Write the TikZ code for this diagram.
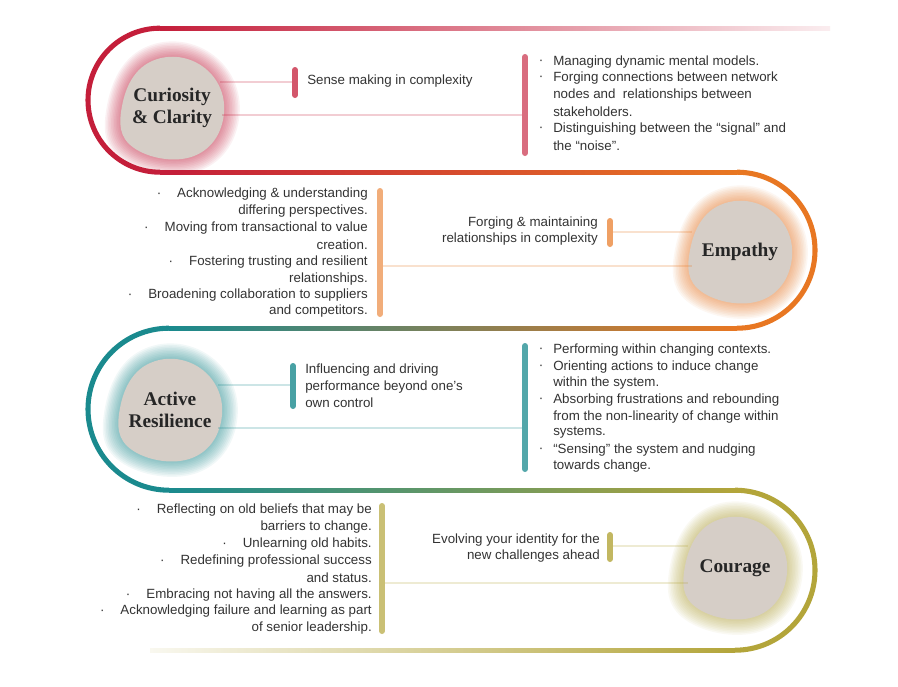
\documentclass[tikz,border=0pt]{standalone}
\usepackage{fontspec}
\setmainfont{Liberation Sans}
\newfontfamily\hd{Liberation Serif}
\definecolor{cR}{HTML}{C41E3A}
\definecolor{cO}{HTML}{E87722}
\definecolor{cT}{HTML}{1A8A8E}
\definecolor{cL}{HTML}{B3A53A}
\definecolor{bl}{HTML}{D6CEC7}
\definecolor{tx}{HTML}{333333}
\tikzset{
 txt/.style={font=\fontsize{10}{12.6}\selectfont, text=tx, inner sep=0pt},
 head/.style={font=\hd\bfseries\fontsize{14.5}{16.5}\selectfont, text=black!85, align=center},
 bar/.style={line width=4.5pt, line cap=round},
 conn/.style={line width=2.2pt, opacity=0.22},
 arcline/.style={line width=3.8pt},
}
\newcommand{\blobpath}{plot[smooth cycle, tension=0.75] coordinates {(-50,-2) (-22,-46) (30,-42) (52,5) (22,48) (-38,40)}}
\newcommand{\myblob}[4]{% x y color name
 \begin{scope}[shift={(#1,#2)}]
 \foreach \s in {1.3,1.27,...,1.0}{
   \fill[#3,opacity=0.06,scale=\s] \blobpath;}
 \fill[bl] \blobpath;
 \end{scope}
 \coordinate (#4) at (#1,#2);}
\begin{document}
\begin{tikzpicture}[x=0.75pt,y=-0.75pt]
\useasboundingbox[fill=white] (0,0) rectangle (898,686);
% bands
\shade[left color=cR, right color=cR!8] (160,26) rectangle (830,30.5);
\shade[left color=cR, middle color=cR!20!cO!25!white, right color=cO] (160,170) rectangle (737,174.5);
\shade[left color=cT, middle color=cL!25!cO!20!white, right color=cO] (169,326) rectangle (737,330.5);
\shade[left color=cT, middle color=cT!15!cL!20!white, right color=cL] (169,488) rectangle (735,492.5);
\shade[left color=cL!8, right color=cL] (150,648) rectangle (735,652.5);
\draw[arcline,cR] (160,28.2) arc[start angle=270,end angle=90,radius=72];
\draw[arcline,cO] (737,172.2) arc[start angle=270,end angle=450,radius=78];
\draw[arcline,cT] (169,328.2) arc[start angle=270,end angle=90,radius=81];
\draw[arcline,cL] (735,490.2) arc[start angle=270,end angle=450,radius=80];

% ---- band 1
\myblob{172}{108}{cR}{b1}
\node[head] at (b1) {Curiosity\\\& Clarity};
\coordinate (c1a) at (295,82); \coordinate (c1b) at (525,115);
\draw[conn,cR] (220,82) -- (c1a);
\draw[conn,cR] (222,115) -- (c1b);
\draw[bar,cR!75] (295,70) -- (295,95);
\draw[bar,cR!65] (525,57) -- (525,153);
\node[txt,anchor=west] (t1) at (307,81) {Sense making in complexity};
\foreach \y/\t in {62/{Managing dynamic mental models.},78/{Forging connections between network},95/{nodes and\ \ relationships between},112/{stakeholders.},129/{Distinguishing between the “signal” and},146/{the “noise”.}}
  \node[txt,anchor=west] at (553,\y) {\t};
\foreach \y in {62,78,129} \node[txt] at (541,\y) {·};

% ---- band 2
\myblob{740}{252}{cO}{b2}
\node[head] at (b2) {Empathy};
\draw[conn,cO] (610,232) -- (692,232);
\draw[conn,cO] (380,266) -- (692,266);
\draw[bar,cO!70] (610,221) -- (610,244);
\draw[bar,cO!60] (380,191) -- (380,314);
\node[txt,anchor=east,align=right] at (598,231) {Forging \& maintaining\\relationships in complexity};
\foreach \y/\t in {194/{·\hspace{12pt}Acknowledging \& understanding},211/{differing perspectives.},228/{·\hspace{12pt}Moving from transactional to value},245/{creation.},262/{·\hspace{12pt}Fostering trusting and resilient},279/{relationships.},295/{·\hspace{12pt}Broadening collaboration to suppliers},311/{and competitors.}}
  \node[txt,anchor=east] at (368,\y) {\t};

% ---- band 3
\myblob{170}{410}{cT}{b3}
\node[head] at (b3) {Active\\Resilience};
\draw[conn,cT] (218,385) -- (293,385);
\draw[conn,cT] (218,428) -- (525,428);
\draw[bar,cT!80] (293,366) -- (293,406);
\draw[bar,cT!75] (525,346) -- (525,469);
\node[txt,anchor=west,align=left] at (305,386) {Influencing and driving\\performance beyond one’s\\own control};
\foreach \y/\t in {350/{Performing within changing contexts.},367/{Orienting actions to induce change},383/{within the system.},400/{Absorbing frustrations and rebounding},417/{from the non-linearity of change within},433/{systems.},450/{“Sensing” the system and nudging},466/{towards change.}}
  \node[txt,anchor=west] at (553,\y) {\t};
\foreach \y in {350,367,400,450} \node[txt] at (541,\y) {·};

% ---- band 4
\myblob{735}{568}{cL}{b4}
\node[head] at (b4) {Courage};
\draw[conn,cL] (610,546) -- (688,546);
\draw[conn,cL] (382,583) -- (688,583);
\draw[bar,cL!80] (610,535) -- (610,559);
\draw[bar,cL!70] (382,506) -- (382,631);
\node[txt,anchor=east,align=right] at (600,548) {Evolving your identity for the\\new challenges ahead};
\foreach \y/\t in {510/{·\hspace{12pt}Reflecting on old beliefs that may be},527/{barriers to change.},544/{·\hspace{12pt}Unlearning old habits.},561/{·\hspace{12pt}Redefining professional success},578/{and status.},595/{·\hspace{12pt}Embracing not having all the answers.},611/{·\hspace{12pt}Acknowledging failure and learning as part},628/{of senior leadership.}}
  \node[txt,anchor=east] at (372,\y) {\t};
\end{tikzpicture}
\end{document}
